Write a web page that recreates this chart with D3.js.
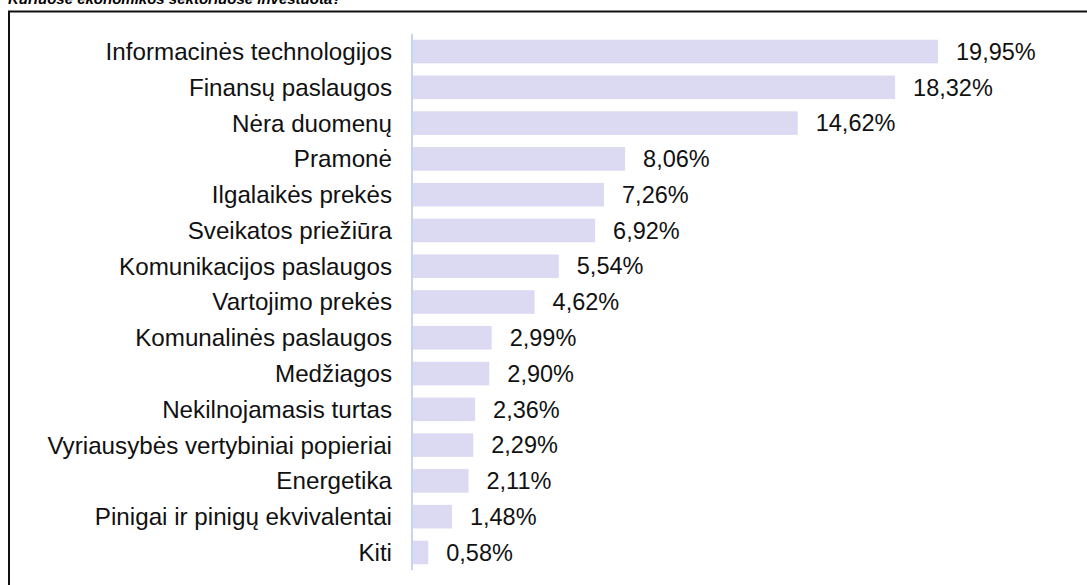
<!DOCTYPE html>
<html>
<head>
<meta charset="utf-8">
<script src="https://cdn.jsdelivr.net/npm/d3@7"></script>
<style>
  body { margin: 0; background: #fff; }
</style>
</head>
<body>
<script>
const categories = [
    "Informacinės technologijos", "Finansų paslaugos", "Nėra duomenų", "Pramonė",
    "Ilgalaikės prekės", "Sveikatos priežiūra", "Komunikacijos paslaugos", "Vartojimo prekės",
    "Komunalinės paslaugos", "Medžiagos", "Nekilnojamasis turtas",
    "Vyriausybės vertybiniai popieriai", "Energetika", "Pinigai ir pinigų ekvivalentai", "Kiti"
];
const shares = [19.95, 18.32, 14.62, 8.06, 7.26, 6.92, 5.54, 4.62, 2.99, 2.90, 2.36, 2.29, 2.11, 1.48, 0.58];
const title = "Kuriuose ekonomikos sektoriuose investuota?";

const width = 1087, height = 585;
const svg = d3.select("body").append("svg").attr("width", width).attr("height", height);

// title is mostly cut off at the top edge, as in the original
svg.append("text")
   .attr("x", 8)
   .attr("y", 4)
   .text(title)
   .style("font-family", "Arial")
   .style("font-size", "15px")
   .style("font-weight", "bold")
   .style("font-style", "italic");

// frame (only top and left visible)
svg.append("path")
   .attr("d", `M9,${height + 5} L9,11.5 L${width + 5},11.5`)
   .style("fill", "none")
   .style("stroke", "#111")
   .style("stroke-width", 2);

const x = d3.scaleLinear().domain([0, 19.95]).range([413, 938]);
const y = d3.scaleBand().domain(categories).range([34, 570]).paddingInner(0.34).paddingOuter(0.16);

const data = categories.map((c, i) => ({cat: c, val: shares[i]}));

svg.selectAll(".bar")
   .data(data)
   .enter().append("rect")
   .attr("class", "bar")
   .attr("x", x(0))
   .attr("y", d => y(d.cat))
   .attr("width", d => x(d.val) - x(0))
   .attr("height", y.bandwidth())
   .style("fill", "#dcdaf2");

// category axis line
svg.append("line")
   .attr("x1", 412).attr("x2", 412)
   .attr("y1", 34).attr("y2", 570)
   .style("stroke", "#c5d3f4")
   .style("stroke-width", 2);

svg.selectAll(".cat-label")
   .data(data)
   .enter().append("text")
   .attr("class", "cat-label")
   .attr("x", 392)
   .attr("y", d => y(d.cat) + y.bandwidth() / 2)
   .attr("dy", "0.35em")
   .text(d => d.cat)
   .style("font-family", "Arial")
   .style("font-size", "24.2px")
   .style("text-anchor", "end")
   .style("fill", "#111");

svg.selectAll(".val-label")
   .data(data)
   .enter().append("text")
   .attr("class", "val-label")
   .attr("x", d => x(d.val) + 18)
   .attr("y", d => y(d.cat) + y.bandwidth() / 2)
   .attr("dy", "0.35em")
   .text(d => d3.format(".2f")(d.val).replace(".", ",") + "%")
   .style("font-family", "Arial")
   .style("font-size", "23.5px")
   .style("fill", "#111");
</script>
</body>
</html>
